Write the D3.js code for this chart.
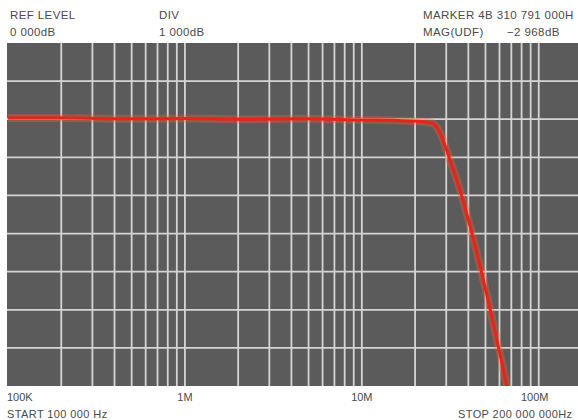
<!DOCTYPE html>
<html>
<head>
<meta charset="utf-8">
<script src="https://cdn.jsdelivr.net/npm/d3@7"></script>
<style>
    body { margin: 0; background: #fff; }
    text { font-family: "Liberation Sans", Arial, sans-serif; fill: #4a4a4a; }
</style>
</head>
<body>
<script>
// analyzer screen: log sweep 100K..200M, 1 dB per division

// trace values (Hz, dB)
var freqs = [1e5, 2e5, 5e5, 1e6, 2e6, 5e6, 1e7, 1.5e7, 2e7, 2.5e7,
    2.77e7, 3.15e7, 3.59e7, 4.09e7, 4.66e7, 5.31e7, 6.04e7, 6.71e7];
var magDb = [0.03, 0.03, 0.01, 0.02, 0.0, 0.01, -0.02, -0.03, -0.05, -0.1,
    -0.36, -1.07, -1.86, -2.8, -3.85, -4.98, -6.16, -7.16];

var tickValues = [1e5, 1e6, 1e7, 1e8];
var tickLabels = ["100K", "1M", "10M", "100M"];
var gridMults = [1, 2, 3, 4, 5, 6, 7, 8, 9];
var dbLines = [-6, -5, -4, -3, -2, -1, 0, 1];

var headerLeft = ["REF LEVEL", "0 000dB"];
var headerMid = ["DIV", "1 000dB"];
var headerRight = ["MARKER 4B 310 791 000H", "MAG(UDF)"];
var markerMag = "\u22122 968dB";
var startLabel = "START 100 000 Hz";
var stopLabel = "STOP 200 000 000Hz";

var width = 578,
    height = 420,
    plot = {left: 7, right: 578, top: 43, bottom: 386};

var svg = d3.select("body").append("svg")
    .attr("width", width)
    .attr("height", height);

// scales: 200M falls just past the right edge of the photo
var x = d3.scaleLog().domain([1e5, 2e8]).range([8, 592]);
var y = d3.scaleLinear().domain([-7, 2]).range([plot.bottom, plot.top]);

svg.append("clipPath").attr("id", "plotClip")
    .append("rect")
    .attr("x", plot.left)
    .attr("y", plot.top)
    .attr("width", plot.right - plot.left)
    .attr("height", plot.bottom - plot.top);

svg.append("rect")
    .attr("x", plot.left)
    .attr("y", plot.top)
    .attr("width", plot.right - plot.left)
    .attr("height", plot.bottom - plot.top)
    .style("fill", "#5b5b5b");

var grid = svg.append("g").attr("clip-path", "url(#plotClip)");

// vertical log grid
var vLines = [];
tickValues.forEach(function(dec) {
    gridMults.forEach(function(m) {
        if (m * dec > 1e5) vLines.push(m * dec);
    });
});

grid.selectAll(".vgrid")
    .data(vLines)
    .enter()
    .append("line")
    .attr("class", "vgrid")
    .attr("x1", function(d) { return x(d); })
    .attr("x2", function(d) { return x(d); })
    .attr("y1", plot.top)
    .attr("y2", plot.bottom)
    .style("stroke", "#d4d4d4")
    .style("stroke-width", 1.8);

grid.selectAll(".hgrid")
    .data(dbLines)
    .enter()
    .append("line")
    .attr("class", "hgrid")
    .attr("x1", plot.left)
    .attr("x2", plot.right)
    .attr("y1", function(d) { return y(d); })
    .attr("y2", function(d) { return y(d); })
    .style("stroke", "#d4d4d4")
    .style("stroke-width", 1.8);

// trace
var traceData = freqs.map(function(f, i) { return [f, magDb[i]]; });
var line = d3.line()
    .x(function(d) { return x(d[0]); })
    .y(function(d) { return y(d[1]); })
    .curve(d3.curveMonotoneX);

grid.append("path")
    .datum(traceData)
    .attr("d", line)
    .style("fill", "none")
    .style("stroke", "#ff5a2e")
    .style("stroke-opacity", 0.35)
    .style("stroke-width", 8);

grid.append("path")
    .datum(traceData)
    .attr("d", line)
    .style("fill", "none")
    .style("stroke", "#e8241a")
    .style("stroke-width", 3);

// header texts
function header(lines, xPos) {
    lines.forEach(function(t, i) {
        svg.append("text")
            .attr("x", xPos)
            .attr("y", 18.5 + i * 17.5)
            .style("font-size", "11.5px")
            .style("letter-spacing", "0.4px")
            .text(t);
    });
}
header(headerLeft, 10);
header(headerMid, 159);
header(headerRight, 423);

svg.append("text")
    .attr("x", 507)
    .attr("y", 36)
    .style("font-size", "11.5px")
    .style("letter-spacing", "0.4px")
    .text(markerMag);

// frequency labels under the screen
svg.selectAll(".tick")
    .data(tickValues)
    .enter()
    .append("text")
    .attr("class", "tick")
    .attr("x", function(d, i) { return i == 0 ? 7 : x(d) - (i == 3 ? 4 : 0); })
    .attr("y", 400.5)
    .attr("text-anchor", function(d, i) { return i == 0 ? "start" : "middle"; })
    .style("font-size", "11px")
    .text(function(d, i) { return tickLabels[i]; });

svg.append("text")
    .attr("x", 7)
    .attr("y", 417.5)
    .style("font-size", "11px")
    .style("letter-spacing", "0.4px")
    .text(startLabel);

svg.append("text")
    .attr("x", 458)
    .attr("y", 417.5)
    .style("font-size", "11px")
    .style("letter-spacing", "0.4px")
    .text(stopLabel);
</script>
</body>
</html>
